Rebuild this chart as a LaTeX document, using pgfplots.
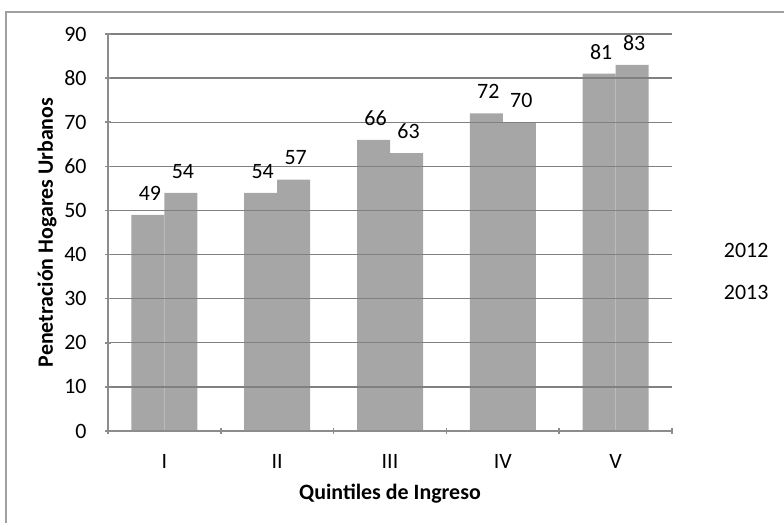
\documentclass[border=0pt]{standalone}
\usepackage{pgfplots}
\pgfplotsset{compat=1.18}
\usepackage{fontspec}
\setmainfont{Carlito}

\definecolor{barcol}{HTML}{A6A6A6}
\definecolor{gridcol}{HTML}{808080}
\definecolor{axcol}{HTML}{8C8C8C}
\definecolor{framecol}{HTML}{A0A0A0}
\newcommand{\chartfont}{\fontsize{22}{26}\selectfont}

\begin{document}
\chartfont
\begin{tikzpicture}[x=1bp,y=1bp]
\useasboundingbox (0,0) rectangle (784,523);
\draw[framecol, line width=2bp] (6,-5) -- (6,511) -- (790,511);
\begin{axis}[
    at={(108bp,92bp)}, anchor=south west,
    scale only axis, width=564bp, height=397bp,
    ybar=0pt, bar width=33bp,
    xmin=-0.5, xmax=4.5,
    ymin=0, ymax=90, ytick={0,10,...,90},
    xtick={0,...,4}, xticklabels={I,II,III,IV,V},
    minor xtick={-0.5,0.5,...,4.5},
    major x tick style={draw=none},
    minor x tick style={axcol, line width=1.5bp},
    minor tick length=6bp,
    tick align=outside,
    y tick style={axcol, line width=1.5bp},
    major tick length=6bp,
    axis lines=left, axis line style={-, axcol, line width=1.5bp},
    ymajorgrids, grid style={gridcol, line width=1.3bp},
    axis on top,
    /pgf/number format/assume math mode=true,
    tick label style={font=\chartfont},
    yticklabel style={xshift=-11bp},
    xticklabel style={yshift=-13bp},
    ylabel={\bfseries Penetración Hogares Urbanos},
    xlabel={\bfseries Quintiles de Ingreso},
    label style={font=\chartfont},
    ylabel style={at={(axis description cs:-0.108,0.5)}, anchor=center},
    xlabel style={at={(axis description cs:0.5,-0.159)}, anchor=center},
    nodes near coords,
    nodes near coords style={font=\chartfont, black, anchor=south, yshift=7bp, xshift=2bp},
    legend style={at={(1.083,0.398)}, anchor=west, draw=none, fill=none,
        font=\chartfont, row sep=20bp},
    legend cell align=left,
]
\addplot[fill=barcol, draw=none, legend image code/.code={}] coordinates {(0,49) (1,54) (2,66) (3,72) (4,81)};
\addplot[fill=barcol, draw=none, legend image code/.code={}] coordinates {(0,54) (1,57) (2,63) (3,70) (4,83)};
\legend{2012,2013}
\end{axis}
\end{tikzpicture}
\end{document}
